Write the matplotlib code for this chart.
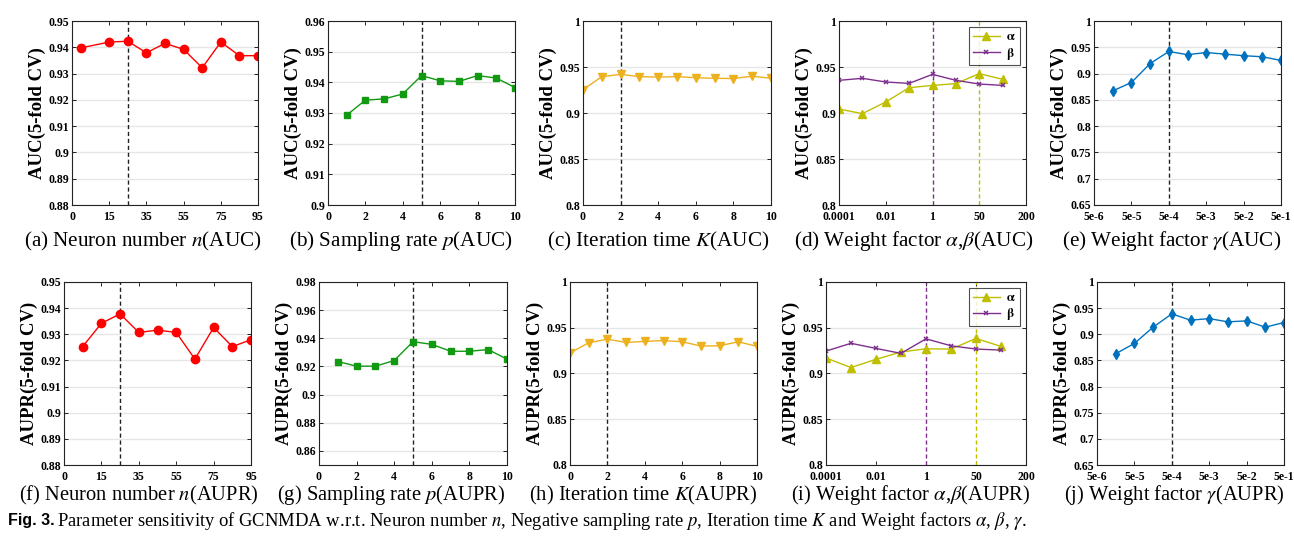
import matplotlib
matplotlib.use("Agg")
import matplotlib.pyplot as plt

plt.rcParams['font.family'] = ['Liberation Serif', 'DejaVu Serif']
plt.rcParams['mathtext.fontset'] = 'stix'

# ---------------- data ----------------
# (a)/(f) neuron number
neuron_pos_a = [5, 20, 30, 40, 50, 60, 70, 80, 90, 100]
neuron_pos_f = [10, 20, 30, 40, 50, 60, 70, 80, 90, 100]
neuron_ticks = [0, 20, 40, 60, 80, 100]
neuron_ticklabels = ['0', '15', '35', '55', '75', '95']
neuron_auc = [0.9398, 0.9420, 0.9423, 0.9379, 0.9415, 0.9392, 0.9322, 0.9420, 0.9368, 0.9368]
neuron_aupr = [0.9253, 0.9342, 0.9378, 0.9307, 0.9316, 0.9307, 0.9205, 0.9326, 0.9253, 0.9279]

# (b)/(g) sampling rate
rate_p = [1, 2, 3, 4, 5, 6, 7, 8, 9, 10]
rate_auc = [0.9293, 0.9342, 0.9346, 0.9362, 0.9422, 0.9405, 0.9403, 0.9422, 0.9414, 0.9383]
rate_aupr = [0.9235, 0.9202, 0.9202, 0.9242, 0.9376, 0.9357, 0.9308, 0.9308, 0.9320, 0.9252]

# (c)/(h) iteration time
iter_k = [0, 1, 2, 3, 4, 5, 6, 7, 8, 9, 10]
iter_auc = [0.9254, 0.9395, 0.9420, 0.9395, 0.9390, 0.9395, 0.9384, 0.9377, 0.9375, 0.9400, 0.9377]
iter_aupr = [0.9224, 0.9336, 0.9375, 0.9340, 0.9350, 0.9360, 0.9347, 0.9300, 0.9303, 0.9347, 0.9296]

# (d)/(i) weight factors alpha, beta (index positions)
weight_pos = [0, 1, 2, 3, 4, 5, 6, 7]
weight_ticks = [0, 2, 4, 6, 8]
weight_ticklabels = ['0.0001', '0.01', '1', '50', '200']
alpha_auc = [0.9043, 0.8993, 0.9120, 0.9275, 0.9300, 0.9319, 0.9428, 0.9366]
beta_auc = [0.9355, 0.9377, 0.9337, 0.9322, 0.9420, 0.9355, 0.9315, 0.9300]
alpha_aupr = [0.9170, 0.9065, 0.9155, 0.9235, 0.9270, 0.9267, 0.9383, 0.9296]
beta_aupr = [0.9245, 0.9330, 0.9274, 0.9220, 0.9379, 0.9303, 0.9267, 0.9256]

# (e)/(j) weight factor gamma (index positions)
gamma_pos = [1, 2, 3, 4, 5, 6, 7, 8, 9, 10]
gamma_ticks = [0, 2, 4, 6, 8, 10]
gamma_ticklabels = ['5e-6', '5e-5', '5e-4', '5e-3', '5e-2', '5e-1']
gamma_auc = [0.8670, 0.8830, 0.9190, 0.9420, 0.9360, 0.9400, 0.9370, 0.9340, 0.9320, 0.9250]
gamma_aupr = [0.8628, 0.8825, 0.9136, 0.9390, 0.9270, 0.9300, 0.9238, 0.9257, 0.9136, 0.9225]

subtitles_top = [r'(a) Neuron number $n$(AUC)', r'(b) Sampling rate $p$(AUC)',
                 r'(c) Iteration time $K$(AUC)', r'(d) Weight factor $\alpha$,$\beta$(AUC)',
                 r'(e) Weight factor $\gamma$(AUC)']
subtitles_bot = [r'(f) Neuron number $n$(AUPR)', r'(g) Sampling rate $p$(AUPR)',
                 r'(h) Iteration time $K$(AUPR)', r'(i) Weight factor $\alpha$,$\beta$(AUPR)',
                 r'(j) Weight factor $\gamma$(AUPR)']

# ---------------- layout ----------------
W, H = 1294, 540
fig = plt.figure(figsize=(W / 100, H / 100), dpi=100)

top_left = [72, 328, 583, 839, 1094]
top_right = [258, 515, 771, 1026, 1281]
bot_left = [64, 319, 570, 826, 1097]
bot_right = [251, 507, 757, 1026, 1284]
top_y = (21, 205)
bot_y = (282, 465)
top_sub_x = [143, 401, 658, 914, 1172]
bot_sub_x = [139, 391, 643, 911, 1174]

def make_ax(l, r, yr):
    return fig.add_axes([l / W, 1 - yr[1] / H, (r - l) / W, (yr[1] - yr[0]) / H])

RED = '#FF0000'
GREEN = '#119911'
ORANGE = '#EDB120'
OLIVE = '#BFBF00'
PURPLE = '#7E2F8E'
BLUE = '#0072BD'

def style(ax, ylabel, ylim, yticks, yticklabels=None):
    ax.set_ylim(*ylim)
    ax.set_yticks(yticks)
    if yticklabels is not None:
        ax.set_yticklabels(yticklabels)
    ax.yaxis.grid(True, color='#e6e6e6', lw=1.0)
    ax.set_axisbelow(True)
    ax.tick_params(direction='in', top=True, right=True, length=3, width=0.6,
                   labelsize=8.5, pad=2)
    ax.tick_params(axis='x', pad=4)
    for lab in ax.get_xticklabels() + ax.get_yticklabels():
        lab.set_fontweight('bold')
    for s in ax.spines.values():
        s.set_linewidth(0.8)
        s.set_color('#222222')
    ax.set_ylabel(ylabel, fontsize=13.5, fontweight='bold', labelpad=2)

def fmt(vals):
    out = []
    for v in vals:
        s = ('%.2f' % v).rstrip('0').rstrip('.')
        out.append(s)
    return out

def vline(ax, x, color='#222222'):
    ax.axvline(x, color=color, ls='--', lw=1.0, dashes=(3, 2), zorder=1.5)

for row in range(2):
    auc = row == 0
    lefts = top_left if auc else bot_left
    rights = top_right if auc else bot_right
    yr = top_y if auc else bot_y
    ylab = 'AUC(5-fold CV)' if auc else 'AUPR(5-fold CV)'

    # neuron
    ax = make_ax(lefts[0], rights[0], yr)
    xs = neuron_pos_a if auc else neuron_pos_f
    ax.plot(xs, neuron_auc if auc else neuron_aupr, '-o', color=RED, ms=6, lw=1.0)
    ax.set_xlim(0, 100)
    ax.set_xticks(neuron_ticks)
    ax.set_xticklabels(neuron_ticklabels)
    yt = [0.88, 0.89, 0.90, 0.91, 0.92, 0.93, 0.94, 0.95]
    style(ax, ylab, (0.88, 0.95), yt, fmt(yt))
    vline(ax, 30)

    # sampling rate
    ax = make_ax(lefts[1], rights[1], yr)
    ax.plot(rate_p, rate_auc if auc else rate_aupr, '-s', color=GREEN, ms=4.5, lw=1.0)
    ax.set_xlim(0, 10)
    ax.set_xticks([0, 2, 4, 6, 8, 10])
    if auc:
        yt = [0.90, 0.91, 0.92, 0.93, 0.94, 0.95, 0.96]
        style(ax, ylab, (0.90, 0.96), yt, fmt(yt))
    else:
        yt = [0.86, 0.88, 0.90, 0.92, 0.94, 0.96, 0.98]
        style(ax, ylab, (0.85, 0.98), yt, fmt(yt))
    vline(ax, 5)

    # iteration
    ax = make_ax(lefts[2], rights[2], yr)
    ax.plot(iter_k, iter_auc if auc else iter_aupr, '-v', color=ORANGE, ms=6, lw=1.0)
    ax.set_xlim(0, 10)
    ax.set_xticks([0, 2, 4, 6, 8, 10])
    yt = [0.80, 0.85, 0.90, 0.95, 1.0]
    style(ax, ylab, (0.8, 1.0), yt, fmt(yt))
    vline(ax, 2)

    # alpha beta
    ax = make_ax(lefts[3], rights[3], yr)
    ax.plot(weight_pos, alpha_auc if auc else alpha_aupr, '-^', color=OLIVE, ms=6,
            lw=1.0, label=r'$\mathbf{\alpha}$')
    ax.plot(weight_pos, beta_auc if auc else beta_aupr, '-x', color=PURPLE, ms=3.5,
            mew=1.1, lw=1.0, label=r'$\mathbf{\beta}$')
    ax.set_xlim(0, 8)
    ax.set_xticks(weight_ticks)
    ax.set_xticklabels(weight_ticklabels)
    style(ax, ylab, (0.8, 1.0), yt, fmt(yt))
    vline(ax, 4, PURPLE)
    vline(ax, 6, OLIVE)
    leg = ax.legend(loc='upper right', fontsize=9, frameon=True, fancybox=False,
                    edgecolor='#222222', handlelength=2.2, borderpad=0.3,
                    labelspacing=0.2, handletextpad=0.5, borderaxespad=0.5)
    leg.get_frame().set_linewidth(0.8)

    # gamma
    ax = make_ax(lefts[4], rights[4], yr)
    ax.plot(gamma_pos, gamma_auc if auc else gamma_aupr, '-d', color=BLUE, ms=5.5, lw=1.0)
    ax.set_xlim(0, 10)
    ax.set_xticks(gamma_ticks)
    ax.set_xticklabels(gamma_ticklabels)
    yt = [0.65, 0.70, 0.75, 0.80, 0.85, 0.90, 0.95, 1.0]
    style(ax, ylab, (0.65, 1.0), yt, fmt(yt))
    vline(ax, 4)

# subtitles
for i in range(5):
    fig.text(top_sub_x[i] / W, 1 - 241 / H, subtitles_top[i], ha='center', va='center',
             fontsize=15.2)
    fig.text(bot_sub_x[i] / W, 1 - 495 / H, subtitles_bot[i], ha='center', va='center',
             fontsize=14.8)

# caption
fig.text(8 / W, 1 - 521 / H, 'Fig. 3.', fontsize=11.5, fontweight='bold',
         family=['Liberation Sans', 'DejaVu Sans'], va='center', ha='left')
fig.text(57 / W, 1 - 521 / H,
         r'Parameter sensitivity of GCNMDA w.r.t. Neuron number $n$, Negative sampling rate $p$, '
         r'Iteration time $K$ and Weight factors $\alpha$, $\beta$, $\gamma$.',
         fontsize=13.4, va='center', ha='left')

fig.savefig('out.png', dpi=100)
